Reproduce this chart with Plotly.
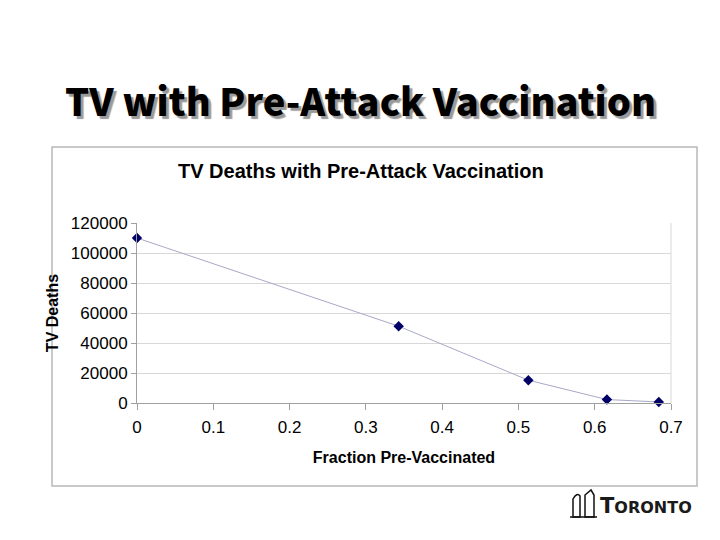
import plotly.graph_objects as go

W, H = 720, 540

fraction = [0.0, 0.343, 0.513, 0.616, 0.684]
deaths = [110000, 51200, 15200, 2300, 700]
y_ticks = [0, 20000, 40000, 60000, 80000, 100000, 120000]
x_ticks = [0, 0.1, 0.2, 0.3, 0.4, 0.5, 0.6, 0.7]

def px(x):
    return x / W

def py(y):
    return 1 - y / H

fig = go.Figure()
fig.add_trace(go.Scatter(
    x=fraction, y=deaths, mode="lines+markers",
    line=dict(color="#a8a8c8", width=1),
    marker=dict(symbol="diamond", size=8, color="#000066"),
    showlegend=False, cliponaxis=False,
))

tick_font = dict(family="Liberation Sans, Arial, sans-serif", size=17, color="#000000")
lab_font = dict(family="Liberation Sans, Arial, sans-serif", size=16, color="#000000")

fig.update_layout(
    width=W, height=H,
    margin=dict(l=0, r=0, t=0, b=0),
    paper_bgcolor="white", plot_bgcolor="white",
    xaxis=dict(
        domain=[px(137), px(671)], range=[0, 0.7],
        tickvals=x_ticks, ticktext=[f"{v:g}" for v in x_ticks],
        showgrid=False, zeroline=False, automargin=False,
        showline=True, linecolor="#a0a0a0", linewidth=1,
        ticks="outside", ticklen=6, tickcolor="#a0a0a0",
        ticklabelstandoff=3,
        tickfont=tick_font,
        title=dict(text="<b>Fraction Pre-Vaccinated</b>", font=lab_font, standoff=15),
    ),
    yaxis=dict(
        domain=[py(403), py(223)], range=[0, 120000],
        tickvals=y_ticks, ticktext=[str(v) for v in y_ticks],
        showgrid=True, gridcolor="#d8d8d8", gridwidth=1,
        zeroline=False, automargin=False,
        showline=True, linecolor="#a0a0a0", linewidth=1,
        ticks="outside", ticklen=5, tickcolor="#a0a0a0",
        tickfont=tick_font,
        title=dict(text="<b>TV Deaths</b>", font=lab_font, standoff=8),
    ),
    shapes=[
        dict(type="rect", xref="paper", yref="paper",
             x0=px(52), x1=px(697), y0=py(486), y1=py(147),
             line=dict(color="#b8b8b8", width=1.5), layer="below"),
        dict(type="line", xref="paper", yref="paper",
             x0=px(671), x1=px(671), y0=py(403), y1=py(223),
             line=dict(color="#d8d8d8", width=1)),
        dict(type="path", xref="paper", yref="paper",
             path=f"M {px(573)} {py(517)} L {px(573)} {py(499)} Q {px(577)} {py(492)} {px(580)} {py(496)} L {px(580)} {py(517)} Z",
             line=dict(color="#111111", width=1.5), fillcolor="rgba(0,0,0,0)"),
        dict(type="path", xref="paper", yref="paper",
             path=f"M {px(585)} {py(517)} L {px(585)} {py(495)} L {px(591)} {py(490)} L {px(594)} {py(495)} L {px(594)} {py(517)} Z",
             line=dict(color="#111111", width=1.5), fillcolor="rgba(0,0,0,0)"),
        dict(type="line", xref="paper", yref="paper",
             x0=px(570), x1=px(597), y0=py(517), y1=py(517),
             line=dict(color="#111111", width=1.5)),
    ],
    annotations=[
        dict(text="TV with Pre-Attack Vaccination", xref="paper", yref="paper",
             x=px(360), y=py(100), xanchor="center", yanchor="middle", showarrow=False,
             font=dict(family="Noto Sans CJK JP, sans-serif", size=38, color="#000000",
                       weight=900, shadow="3px 3px 1px #9a9a9a")),
        dict(text="<b>TV Deaths with Pre-Attack Vaccination</b>", xref="paper", yref="paper",
             x=px(361), y=py(171), xanchor="center", yanchor="middle", showarrow=False,
             font=dict(family="Liberation Sans, Arial, sans-serif", size=20, color="#000000")),
        dict(text="<span style='font-size:21px'>T</span>ORONTO",
             xref="paper", yref="paper",
             x=px(598), y=py(506), xanchor="left", yanchor="middle", showarrow=False,
             font=dict(family="DejaVu Sans, sans-serif",
                       size=16, color="#1a1a1a", weight=700)),
    ],
)

fig.write_html("out.html", config={"displayModeBar": False},
               post_script="document.body.style.margin='0';document.body.style.overflow='hidden';")
